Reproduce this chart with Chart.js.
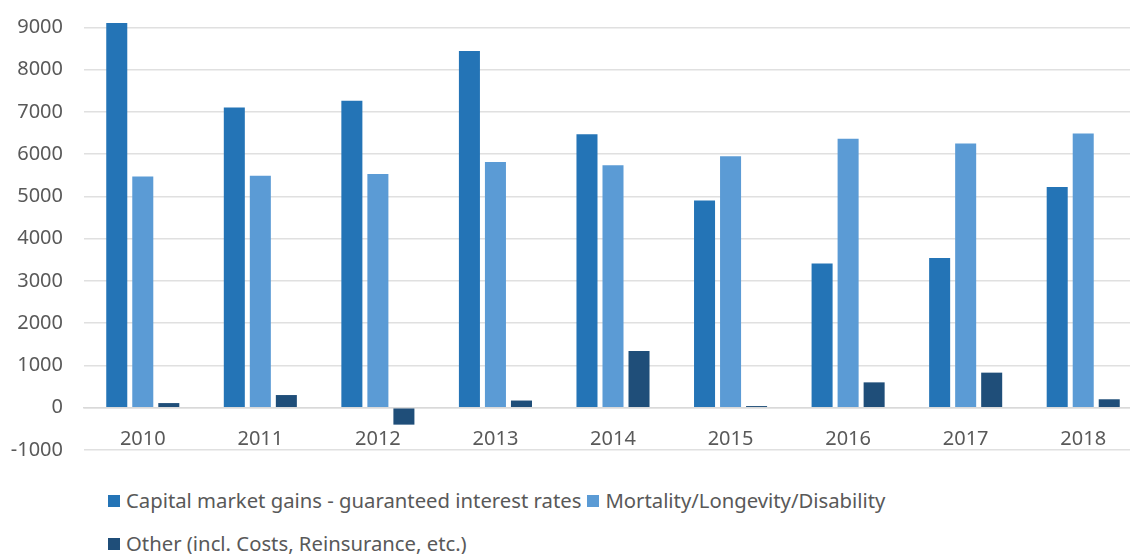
<!DOCTYPE html>
<html>
<head>
<meta charset="utf-8">
<script src="https://cdn.jsdelivr.net/npm/chart.js@4.4.1/dist/chart.umd.min.js"></script>
<style>
    html, body { margin: 0; padding: 0; background: #fff; overflow: hidden; }
    #wrap { position: relative; width: 1130px; height: 554px; overflow: hidden; }
    #chart { position: absolute; left: 0; top: -48px; }
    #legend {
        position: absolute; left: 108px; top: 487px; width: 840px;
        display: flex; flex-wrap: wrap; row-gap: 16px;
        font-family: 'Noto Sans', sans-serif; font-size: 20.3px; color: #595959;
    }
    .item { display: flex; align-items: center; margin-right: 6px; line-height: 27px; }
    .box { width: 12px; height: 12px; margin-right: 6px; }
</style>
</head>
<body>
<div id="wrap">
    <canvas id="chart" width="1142" height="531"></canvas>
    <div id="legend"></div>
</div>
<script>
// Data
const years = ['2010', '2011', '2012', '2013', '2014', '2015', '2016', '2017', '2018'];
const capitalMarketGains = [9100, 7100, 7260, 8440, 6470, 4900, 3410, 3540, 5220];
const mortalityLongevity = [5470, 5490, 5530, 5810, 5735, 5950, 6360, 6250, 6490];
const otherCosts = [110, 300, -400, 170, 1340, 40, 600, 830, 200];
const seriesNames = [
    'Capital market gains - guaranteed interest rates',
    'Mortality/Longevity/Disability',
    'Other (incl. Costs, Reinsurance, etc.)'
];
const seriesColors = ['#2474B6', '#5B9BD5', '#1F4E79'];

Chart.defaults.font.family = "'Noto Sans', sans-serif";
Chart.defaults.color = '#595959';

// the 10000 line sits above the visible area, as in the cropped original
const chart = new Chart(document.getElementById('chart'), {
    type: 'bar',
    data: {
        labels: years,
        datasets: [capitalMarketGains, mortalityLongevity, otherCosts].map((values, i) => ({
            label: seriesNames[i],
            data: values,
            backgroundColor: seriesColors[i],
            borderWidth: 0,
            categoryPercentage: 0.664,
            barPercentage: 0.808
        }))
    },
    options: {
        responsive: false,
        animation: false,
        layout: { padding: 0 },
        plugins: {
            legend: { display: false },
            tooltip: { enabled: false }
        },
        scales: {
            x: {
                position: { y: 0 },
                grid: { display: false },
                border: { display: true, color: '#d9d9d9', width: 1.5 },
                ticks: { font: { size: 20 }, padding: 12, maxRotation: 0 }
            },
            y: {
                min: -1000,
                max: 10000,
                afterFit: scale => { scale.width = 84; },
                ticks: {
                    stepSize: 1000,
                    autoSkip: false,
                    font: { size: 20 },
                    padding: 21,
                    callback: value => String(value)
                },
                grid: { color: '#e0e0e0', lineWidth: 1.5, drawTicks: false },
                border: { display: false }
            }
        }
    }
});

// HTML legend built from the chart's datasets
const legendEl = document.getElementById('legend');
chart.data.datasets.forEach(ds => {
    const item = document.createElement('div');
    item.className = 'item';
    const box = document.createElement('span');
    box.className = 'box';
    box.style.background = ds.backgroundColor;
    const text = document.createElement('span');
    text.textContent = ds.label;
    item.appendChild(box);
    item.appendChild(text);
    legendEl.appendChild(item);
});
</script>
</body>
</html>
